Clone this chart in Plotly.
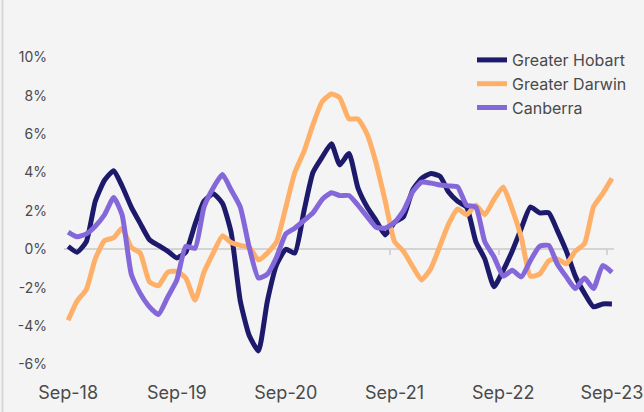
import pandas as pd
import plotly.graph_objects as go

months = pd.date_range("2018-09-01", "2023-09-01", freq="MS")

hobart = [0.15, -0.15, 0.4, 2.5, 3.6, 4.1, 3.3, 2.2, 1.35, 0.5,
          0.2, -0.1, -0.45, -0.15, 1.3, 2.5, 2.9, 2.4, 0.9, -2.7,
          -4.5, -5.3, -2.7, -0.8, 0.0, -0.2, 2.0, 4.0, 4.8, 5.5,
          4.4, 5.0, 3.2, 2.2, 1.5, 0.75, 1.4, 1.7, 3.1, 3.7,
          3.95, 3.8, 3.0, 2.5, 2.2, 0.4, -0.5, -1.95, -1.1, -0.1,
          1.1, 2.2, 1.9, 1.9, 1.0, -0.1, -1.4, -2.3, -3.0, -2.85,
          -2.85]
darwin = [-3.7, -2.7, -2.1, -0.5, 0.45, 0.6, 1.1, 0.1, -0.2, -1.7,
          -1.9, -1.2, -1.15, -1.5, -2.65, -1.2, -0.2, 0.7, 0.35, 0.2,
          0.1, -0.55, -0.2, 0.4, 2.2, 4.0, 5.1, 6.5, 7.7, 8.1,
          7.9, 6.8, 6.8, 6.0, 4.5, 2.5, 0.4, -0.1, -0.9, -1.6,
          -1.0, 0.2, 1.3, 2.1, 1.8, 2.3, 1.8, 2.6, 3.25, 2.1,
          0.6, -1.4, -1.3, -0.6, -0.5, -0.75, -0.1, 0.3, 2.2, 2.9,
          3.7]
canberra = [0.9, 0.65, 0.8, 1.2, 1.8, 2.7, 1.8, -1.3, -2.3, -3.0,
            -3.4, -2.5, -1.6, 0.15, 0.05, 2.2, 3.2, 3.9, 3.1, 2.2,
            0.1, -1.5, -1.3, -0.4, 0.8, 1.1, 1.5, 1.9, 2.6, 2.95,
            2.8, 2.8, 2.3, 1.7, 1.15, 1.1, 1.4, 2.0, 3.0, 3.5,
            3.45, 3.35, 3.3, 3.25, 2.3, 2.2, 0.4, -0.4, -1.4, -1.1,
            -1.44, -0.6, 0.15, 0.2, -0.75, -1.44, -2.05, -1.5, -2.05, -0.85,
            -1.2]

series_names = ["Greater Hobart", "Greater Darwin", "Canberra"]
series_colors = ["#1d1a6c", "#ffb068", "#8467d8"]

x_tick_dates = pd.to_datetime(["2018-09-01", "2019-09-01", "2020-09-01",
                               "2021-09-01", "2022-09-01", "2023-09-01"])
x_tick_text = ["Sep-18", "Sep-19", "Sep-20", "Sep-21", "Sep-22", "Sep-23"]
y_tick_vals = [-6, -4, -2, 0, 2, 4, 6, 8, 10]
y_tick_text = ["-6%", "-4%", "-2%", "0%", "2%", "4%", "6%", "8%", "10%"]

y_range = [-6.4, 10.6]
x_range = ["2018-08-18", "2023-09-08"]
FONT = "Inter, Lato, sans-serif"
TXT = "#4a4a4a"
BG = "#f4f4f4"
AXIS_GREY = "#d4d4d4"

fig = go.Figure()
# empty helper trace so the zero-crossing axis (ticks) is drawn
fig.add_trace(go.Scatter(x=[], y=[], xaxis="x2", showlegend=False, hoverinfo="skip"))
for name, vals, col in zip(series_names, [hobart, darwin, canberra], series_colors):
    fig.add_trace(go.Scatter(
        x=months, y=vals, name=name, mode="lines",
        line=dict(color=col, width=5, shape="spline", smoothing=0.5),
    ))

zero_pos = (0 - y_range[0]) / (y_range[1] - y_range[0])
L, R, T, B = 64, 30, 46, 40
plot_w = 644 - L - R
plot_h = 412 - T - B

fig.update_layout(
    width=644, height=412,
    margin=dict(l=L, r=R, t=T, b=B, autoexpand=False),
    paper_bgcolor=BG, plot_bgcolor=BG,
    font=dict(family=FONT, color=TXT),
    showlegend=True,
    legend=dict(
        x=(472 - L) / plot_w, y=1 - (43 - T) / plot_h,
        xanchor="left", yanchor="top",
        bgcolor="rgba(0,0,0,0)",
        font=dict(size=16, color=TXT, family=FONT),
        tracegroupgap=0,
    ),
    xaxis=dict(
        type="date", range=x_range, automargin=False,
        tickvals=x_tick_dates, ticktext=x_tick_text,
        tickfont=dict(size=18, color=TXT),
        showgrid=False, zeroline=False, showline=False, ticks="",
        ticklabelstandoff=8,
    ),
    xaxis2=dict(
        type="date", range=x_range, overlaying="x", anchor="free",
        position=zero_pos, side="bottom", automargin=False,
        tickvals=x_tick_dates - pd.Timedelta(days=15),
        showticklabels=False, ticks="outside", ticklen=5, tickwidth=2,
        tickcolor=AXIS_GREY, showline=False,
        showgrid=False, zeroline=False, layer="below traces",
    ),
    yaxis=dict(
        range=y_range, tickvals=y_tick_vals, ticktext=y_tick_text,
        tickfont=dict(size=14, color=TXT), automargin=False,
        showgrid=False, zeroline=True, zerolinecolor=AXIS_GREY, zerolinewidth=2,
        showline=False, ticks="", ticklabelstandoff=16,
    ),
    shapes=[dict(
        type="line", xref="paper", yref="paper",
        x0=(2.5 - L) / plot_w, x1=(2.5 - L) / plot_w,
        y0=-B / plot_h, y1=1 + T / plot_h,
        line=dict(color="#d8d8d8", width=2),
    )],
)

fig.write_html("out.html")
